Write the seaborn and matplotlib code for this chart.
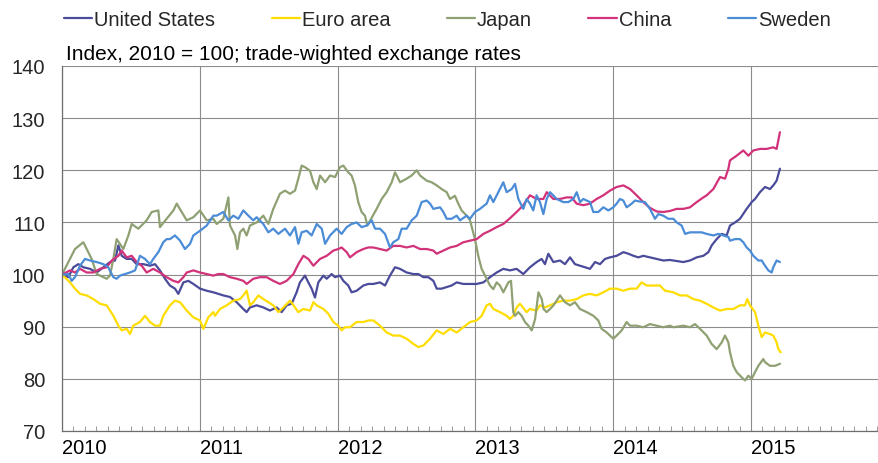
import matplotlib
matplotlib.use("Agg")
import matplotlib.pyplot as plt
from matplotlib.lines import Line2D
from matplotlib.ticker import FixedLocator, MultipleLocator
import pandas as pd
import seaborn as sns

# ---------------- data (months since Jan 2010, index 2010 = 100) ----------------
series_names = ["United States", "Euro area", "Japan", "China", "Sweden"]
series_colors = ["#4B4B9B", "#FFDD00", "#8FA073", "#D2327A", "#4B8CD7"]
year_labels = ["2010", "2011", "2012", "2013", "2014", "2015"]
y_ticks = [70, 80, 90, 100, 110, 120, 130, 140]
subtitle = "Index, 2010 = 100; trade-wighted exchange rates"

us_month = [0, 0.55, 0.99, 1.42, 1.86, 2.44, 3.02, 3.60, 4.18, 4.62, 4.91, 5.20, 5.63, 6.07, 6.50, 7.08, 7.66, 8.10, 8.53, 8.97,
            9.40, 9.84, 10.13, 10.57, 11.00, 11.44, 12.02, 12.60, 13.18, 13.61, 14.05, 14.63, 15.21, 15.79, 16.08, 16.37, 16.95,
            17.53, 18.11, 18.69, 19.13, 19.56, 20.00, 20.43, 20.72, 21.16, 21.45, 21.74, 22.03, 22.32, 22.76, 23.05, 23.48, 23.77,
            24.21, 24.50, 24.93, 25.22, 25.66, 26.24, 26.67, 27.11, 27.69, 28.13, 28.56, 29.00, 29.43, 30.01, 30.60, 31.03, 31.47,
            31.90, 32.34, 32.63, 33.06, 33.50, 33.93, 34.37, 34.95, 35.53, 36.11, 36.69, 37.27, 37.85, 38.43, 39.01, 39.59, 40.17,
            40.75, 41.33, 41.77, 42.06, 42.35, 42.79, 43.37, 43.80, 44.24, 44.67, 45.11, 45.55, 45.98, 46.42, 46.85, 47.29, 47.72,
            48.30, 48.89, 49.32, 49.76, 50.19, 50.62, 51.20, 51.78, 52.36, 52.94, 53.24, 54.11, 54.69, 55.27, 55.85, 56.29, 56.58,
            57.01, 57.45, 57.88, 58.17, 58.61, 59.04, 59.62, 60.06, 60.35, 60.78, 61.22, 61.65, 61.94, 62.23, 62.52]
us_index = [100, 99.5, 101.4, 102.0, 101.4, 101.1, 100.4, 101.4, 102.4, 102.7, 105.6, 103.6, 103.0, 103.0, 102.0, 102.0, 101.7,
            102.0, 100.8, 99.2, 97.9, 97.3, 96.3, 98.5, 98.8, 98.2, 97.3, 96.9, 96.6, 96.3, 96.0, 95.7, 94.7, 93.4, 92.8, 93.7, 94.1,
            93.7, 93.1, 93.7, 92.8, 94.1, 94.4, 96.6, 98.5, 99.8, 98.5, 97.3, 95.6, 98.5, 99.8, 99.2, 100.1, 99.5, 99.8, 98.8, 97.9,
            96.6, 96.9, 97.9, 98.2, 98.2, 98.5, 97.9, 99.8, 101.4, 101.1, 100.4, 100.1, 100.1, 99.5, 99.5, 98.8, 97.3, 97.3, 97.6,
            97.9, 98.5, 98.2, 98.2, 98.2, 98.5, 99.5, 100.4, 101.1, 100.8, 101.1, 100.1, 101.4, 102.4, 103.0, 102.0, 104.0, 102.4,
            102.7, 102.0, 103.3, 102.0, 101.7, 101.4, 101.1, 102.4, 102.0, 103.0, 103.3, 103.6, 104.3, 104.0, 103.6, 103.3, 103.6,
            103.3, 103.0, 102.7, 102.8, 102.7, 102.4, 102.7, 103.3, 103.6, 104.3, 105.6, 106.8, 107.8, 107.5, 109.4, 110.0, 110.7,
            112.6, 113.9, 114.5, 115.8, 116.8, 116.4, 117.1, 118.0, 120.3]

euro_month = [0, 0.70, 1.13, 1.57, 2.15, 2.73, 3.31, 3.89, 4.47, 4.91, 5.20, 5.63, 5.92, 6.21, 6.79, 7.23, 7.66, 8.10, 8.53, 8.82,
              9.40, 9.84, 10.28, 10.86, 11.44, 12.02, 12.31, 12.74, 13.18, 13.32, 13.76, 14.34, 14.92, 15.50, 15.79, 16.08, 16.37,
              16.66, 17.10, 17.53, 17.97, 18.40, 18.84, 19.28, 19.86, 20.15, 20.58, 21.02, 21.60, 21.89, 22.18, 22.76, 23.19, 23.63,
              24.06, 24.35, 24.64, 25.08, 25.66, 26.24, 26.67, 27.11, 27.69, 28.27, 28.85, 29.43, 30.01, 30.60, 31.03, 31.47, 32.05,
              32.63, 33.21, 33.79, 34.37, 34.95, 35.53, 36.11, 36.55, 36.98, 37.27, 37.56, 38.14, 38.72, 39.01, 39.30, 39.59, 39.88,
              40.46, 40.75, 41.33, 41.62, 42.06, 42.50, 43.08, 43.66, 44.24, 44.82, 45.40, 45.97, 46.56, 47.14, 47.72, 48.30, 48.88,
              49.46, 50.04, 50.47, 50.91, 51.49, 52.07, 52.51, 53.24, 53.82, 54.40, 54.98, 55.56, 56.14, 56.72, 57.30, 57.88, 58.46,
              59.04, 59.48, 59.68, 59.91, 60.35, 60.64, 60.93, 61.22, 61.65, 61.94, 62.23, 62.38, 62.58]
euro_index = [100, 98.5, 97.3, 96.3, 96.0, 95.3, 94.4, 94.1, 92.1, 90.2, 89.3, 89.6, 88.6, 90.2, 90.9, 92.1, 90.9, 90.2, 90.2, 92.1,
              94.1, 95.0, 94.7, 93.1, 91.8, 91.2, 89.6, 91.8, 92.8, 92.1, 93.4, 94.1, 95.0, 95.3, 96.0, 96.9, 94.1, 94.7, 96.0, 95.3,
              94.7, 94.1, 92.8, 93.7, 95.0, 94.1, 92.8, 93.4, 93.1, 94.7, 94.1, 93.4, 92.5, 90.9, 90.2, 89.3, 89.9, 89.9, 90.9, 90.9,
              91.2, 91.2, 90.2, 88.9, 88.3, 88.3, 87.7, 86.7, 86.1, 86.4, 87.7, 89.3, 88.6, 89.6, 88.9, 89.9, 90.9, 91.2, 92.1, 94.1,
              94.4, 93.4, 92.8, 92.1, 91.5, 92.1, 93.7, 94.4, 92.8, 93.4, 93.1, 94.1, 93.7, 94.1, 94.7, 95.0, 95.0, 95.3, 96.0, 96.3,
              96.0, 96.6, 97.3, 97.3, 96.9, 97.3, 97.3, 98.5, 97.9, 97.9, 97.9, 96.9, 96.6, 96.0, 96.0, 95.3, 95.0, 94.4, 93.7, 93.1,
              93.4, 93.4, 94.1, 94.1, 95.3, 94.1, 92.8, 90.2, 88.0, 88.9, 88.6, 88.3, 87.0, 85.7, 85.1]

japan_month = [0, 1.13, 1.86, 2.15, 2.58, 3.02, 3.89, 4.18, 4.47, 4.76, 5.34, 5.78, 6.07, 6.65, 7.37, 7.81, 8.39, 8.53, 9.11, 9.70,
               9.99, 10.42, 10.86, 11.44, 12.02, 12.60, 13.18, 13.47, 14.05, 14.49, 14.63, 15.07, 15.27, 15.50, 15.79, 16.08, 16.37,
               16.95, 17.53, 17.97, 18.40, 18.98, 19.42, 19.85, 20.29, 20.58, 20.87, 21.16, 21.60, 21.89, 22.18, 22.47, 22.91, 23.34,
               23.78, 24.21, 24.50, 24.93, 25.22, 25.51, 25.80, 26.09, 26.38, 26.60, 26.92, 27.40, 27.84, 28.27, 28.71, 29.00, 29.15,
               29.44, 30.02, 30.45, 30.89, 31.18, 31.76, 32.19, 32.63, 33.06, 33.50, 33.79, 34.22, 34.51, 34.80, 35.24, 35.53, 35.96,
               36.25, 36.54, 36.98, 37.27, 37.56, 37.85, 38.14, 38.43, 38.87, 39.10, 39.30, 39.45, 39.74, 40.03, 40.32, 40.61, 40.91,
               41.20, 41.49, 41.78, 41.93, 42.21, 42.50, 42.80, 43.37, 43.80, 44.24, 44.67, 45.11, 45.69, 46.27, 46.70, 46.99, 47.43,
               48.01, 48.30, 48.74, 49.17, 49.46, 50.04, 50.62, 51.20, 51.78, 52.36, 52.94, 53.24, 54.11, 54.69, 55.12, 55.56, 56.14,
               56.57, 57.01, 57.45, 57.74, 58.03, 58.17, 58.46, 58.75, 59.19, 59.48, 59.77, 60.06, 60.35, 60.64, 61.07, 61.22, 61.65,
               62.09, 62.53]
japan_index = [100, 104.9, 106.2, 104.9, 103.0, 100.1, 99.2, 99.8, 103.0, 106.8, 104.9, 107.5, 109.7, 108.8, 110.4, 112.0, 112.3,
               109.1, 110.7, 112.3, 113.6, 112.0, 110.4, 111.0, 112.3, 110.4, 110.7, 109.7, 110.7, 114.8, 109.4, 107.5, 104.9, 108.1,
               108.8, 107.5, 109.4, 110.0, 111.3, 109.7, 112.6, 115.5, 116.1, 115.5, 116.1, 118.4, 120.9, 120.6, 119.9, 117.7, 116.4,
               119.0, 117.7, 119.0, 118.7, 120.6, 120.9, 119.6, 119.0, 117.1, 113.9, 112.0, 111.3, 109.4, 110.7, 112.6, 114.5, 115.8,
               117.7, 119.6, 119.0, 117.7, 118.4, 119.0, 120.0, 119.0, 118.0, 117.7, 117.1, 116.4, 115.8, 114.5, 115.1, 113.6, 112.3,
               111.3, 110.4, 106.8, 103.6, 101.1, 99.2, 97.9, 97.2, 98.5, 97.9, 96.6, 98.5, 98.8, 92.8, 92.1, 92.8, 92.1, 90.9, 90.2,
               89.3, 91.5, 96.6, 95.3, 93.4, 92.8, 93.4, 94.1, 96.0, 94.7, 94.1, 94.7, 93.4, 92.8, 92.1, 91.2, 89.6, 88.9, 87.7, 88.3,
               89.3, 90.9, 90.2, 90.2, 89.9, 90.5, 90.2, 89.9, 90.2, 89.9, 90.2, 89.9, 90.5, 89.6, 88.3, 86.7, 85.7, 87.0, 88.3, 87.0,
               85.1, 82.5, 81.3, 80.3, 79.7, 80.6, 80.0, 81.3, 82.5, 83.8, 83.2, 82.5, 82.5, 82.9]

china_month = [0, 0.70, 1.13, 1.57, 2.15, 2.73, 3.31, 3.89, 4.33, 4.91, 5.20, 5.63, 6.07, 6.50, 6.94, 7.37, 7.95, 8.53, 9.11, 9.70,
               10.13, 10.57, 10.86, 11.44, 12.02, 12.60, 13.18, 13.61, 14.05, 14.63, 15.21, 15.79, 16.08, 16.66, 17.24, 17.82, 18.40,
               18.98, 19.56, 20.15, 20.58, 21.02, 21.45, 21.89, 22.47, 23.05, 23.63, 24.06, 24.35, 24.79, 25.08, 25.66, 26.24, 26.67,
               27.11, 27.69, 28.27, 28.85, 29.43, 30.01, 30.60, 31.18, 31.76, 32.34, 32.63, 33.21, 33.79, 34.37, 34.95, 35.53, 36.11,
               36.69, 37.27, 37.85, 38.43, 39.01, 39.59, 40.17, 40.75, 41.33, 41.92, 42.21, 42.79, 43.37, 43.95, 44.38, 44.82, 45.40,
               45.97, 46.56, 47.14, 47.72, 48.30, 48.89, 49.47, 50.04, 50.62, 51.20, 51.78, 52.36, 52.95, 53.53, 54.11, 54.69, 55.27,
               55.85, 56.14, 56.72, 57.30, 57.74, 58.03, 58.17, 58.75, 59.33, 59.77, 60.20, 60.78, 61.36, 61.94, 62.23, 62.52]
china_index = [100, 100.8, 100.4, 101.1, 100.4, 100.4, 101.1, 101.4, 102.7, 103.6, 104.6, 103.3, 103.6, 102.4, 101.7, 100.4, 101.1,
               100.4, 99.5, 98.8, 98.5, 99.5, 100.4, 100.8, 100.4, 100.1, 99.8, 100.1, 100.1, 99.5, 99.2, 98.8, 98.2, 99.2, 99.5, 99.5,
               98.8, 98.2, 98.8, 100.1, 102.0, 103.6, 103.0, 101.7, 103.0, 103.6, 104.6, 104.9, 105.2, 104.3, 103.3, 104.3, 104.9,
               105.2, 105.2, 104.9, 104.6, 105.5, 105.5, 105.2, 105.5, 104.9, 104.9, 104.6, 104.0, 104.6, 105.2, 105.5, 106.2, 106.5,
               106.8, 107.8, 108.4, 109.1, 109.7, 110.8, 112.0, 113.3, 115.2, 114.5, 114.5, 115.8, 114.5, 114.5, 114.8, 114.8, 113.6,
               113.3, 113.6, 114.5, 115.2, 116.1, 116.8, 117.1, 116.4, 115.2, 113.9, 112.8, 112.1, 112.0, 112.2, 112.6, 112.6, 112.9,
               113.9, 114.8, 115.2, 116.4, 118.7, 118.4, 120.3, 121.9, 122.8, 123.8, 122.8, 123.8, 124.1, 124.1, 124.4, 124.1, 127.3]

sweden_month = [0, 0.55, 0.84, 1.13, 1.57, 2.00, 2.44, 3.02, 3.60, 4.03, 4.47, 4.76, 5.05, 5.49, 5.92, 6.36, 6.79, 7.23, 7.66, 7.95,
                8.39, 8.82, 9.11, 9.40, 9.84, 10.28, 10.71, 11.15, 11.44, 12.02, 12.60, 13.18, 13.47, 14.05, 14.49, 14.92, 15.36,
                15.79, 16.23, 16.66, 16.95, 17.53, 17.97, 18.40, 18.84, 19.42, 19.85, 20.29, 20.58, 20.87, 21.31, 21.74, 22.18, 22.62,
                22.91, 23.34, 23.92, 24.35, 24.79, 25.22, 25.66, 26.09, 26.53, 26.97, 27.26, 27.69, 28.13, 28.56, 28.85, 29.29, 29.58,
                30.01, 30.45, 30.89, 31.32, 31.76, 32.05, 32.34, 32.92, 33.21, 33.50, 33.93, 34.37, 34.66, 35.24, 35.53, 35.96, 36.40,
                36.98, 37.27, 37.56, 37.99, 38.43, 38.72, 39.16, 39.45, 39.74, 40.17, 40.46, 40.75, 41.04, 41.33, 41.62, 41.92, 42.21,
                42.50, 43.08, 43.66, 44.09, 44.53, 44.82, 45.11, 45.40, 45.98, 46.27, 46.70, 47.14, 47.58, 48.01, 48.30, 48.59, 48.88,
                49.17, 49.61, 49.90, 50.33, 50.77, 51.20, 51.64, 51.93, 52.36, 52.80, 53.24, 53.53, 53.96, 54.26, 54.69, 55.27, 55.70,
                56.14, 56.72, 57.16, 57.59, 58.03, 58.17, 58.61, 59.04, 59.33, 59.62, 59.91, 60.20, 60.64, 60.93, 61.22, 61.51, 61.80,
                61.94, 62.23, 62.52]
sweden_index = [100, 100.1, 98.8, 99.5, 101.7, 103.0, 102.7, 102.4, 102.0, 101.4, 99.5, 99.2, 99.8, 100.1, 100.4, 100.8, 103.6,
                103.0, 102.0, 103.0, 104.3, 106.2, 106.8, 106.8, 107.5, 106.5, 104.9, 105.9, 107.5, 108.4, 109.4, 111.3, 111.3, 112.0,
                110.4, 111.3, 110.7, 112.3, 111.3, 110.4, 111.0, 109.7, 108.1, 108.8, 107.8, 108.8, 107.5, 109.1, 105.9, 108.1, 108.4,
                107.5, 109.7, 108.8, 105.9, 107.5, 108.8, 107.8, 109.1, 109.7, 110.0, 109.1, 109.4, 110.4, 108.8, 108.8, 107.8, 105.2,
                106.2, 106.8, 108.8, 108.8, 110.4, 111.3, 113.9, 114.2, 113.6, 112.6, 112.9, 112.0, 110.7, 110.7, 111.3, 110.4, 111.3,
                110.7, 112.0, 112.6, 113.6, 115.2, 113.9, 115.8, 117.7, 115.8, 116.4, 117.4, 114.5, 112.6, 114.5, 113.6, 112.3, 115.2,
                113.9, 111.6, 114.5, 115.8, 114.5, 113.9, 113.9, 114.5, 115.8, 113.9, 114.5, 113.9, 112.0, 112.0, 112.9, 112.3, 112.9,
                113.6, 114.5, 114.2, 112.9, 113.6, 114.2, 114.0, 113.9, 112.6, 110.7, 111.6, 111.3, 110.7, 110.7, 110.0, 109.4, 107.8,
                108.1, 108.1, 108.1, 107.8, 107.5, 107.8, 107.5, 107.2, 106.5, 106.8, 106.8, 106.2, 105.2, 104.6, 103.6, 102.7, 102.7,
                101.7, 100.8, 100.4, 101.4, 102.7, 102.4]

# ---------------- build long table ----------------
frames = []
for name, months, vals in zip(series_names,
                              [us_month, euro_month, japan_month, china_month, sweden_month],
                              [us_index, euro_index, japan_index, china_index, sweden_index]):
    frames.append(pd.DataFrame({"year": [2010 + m / 12.0 for m in months],
                                "value": vals, "series": name}))
df = pd.concat(frames, ignore_index=True)

# ---------------- style ----------------
sns.set_theme(style="white")
plt.rcParams["font.family"] = ["Liberation Sans", "DejaVu Sans"]
FS = 14.5

W, H = 879, 464
fig = plt.figure(figsize=(W / 100, H / 100), dpi=100)
ax = fig.add_axes([62 / W, 1 - 432 / H, (880 - 62) / W, (432 - 67) / H])

grid_col = "#8C8C8C"
ax.set_axisbelow(True)

sns.lineplot(data=df, x="year", y="value", hue="series", hue_order=series_names,
             palette=series_colors, estimator=None, sort=False, linewidth=1.6,
             legend=False, ax=ax)

ax.set_xlim(2010.0, 2010 + (880 - 62) / 137.8)
ax.set_ylim(70, 140)
ax.set_xlabel("")
ax.set_ylabel("")

year_pos = [2010 + i for i in range(len(year_labels))]
ax.xaxis.set_major_locator(FixedLocator(year_pos))
ax.set_xticklabels(year_labels, ha="left")
ax.xaxis.set_minor_locator(MultipleLocator(1 / 12))
ax.yaxis.set_major_locator(FixedLocator(y_ticks))
ax.set_yticklabels([str(v) for v in y_ticks])

ax.tick_params(axis="x", which="major", length=0, pad=5, labelsize=FS, colors="#000000")
ax.tick_params(axis="x", which="minor", direction="in", length=3.5, width=0.6,
               color="#8C8C8C", bottom=True)
ax.tick_params(axis="y", which="major", length=0, pad=12, labelsize=FS)
for lab in ax.get_xticklabels():
    lab.set_x(lab.get_position()[0] - 0.015)

ax.grid(True, axis="both", which="major", color=grid_col, linewidth=0.8)
for side in ["top", "right"]:
    ax.spines[side].set_visible(False)
for side in ["left", "bottom"]:
    ax.spines[side].set_color("#6E6E6E")
    ax.spines[side].set_linewidth(0.9)

# subtitle
fig.text(66 / W, 1 - 60 / H, subtitle, ha="left", va="baseline", fontsize=15, color="#000000")

# legend
handles = [Line2D([0], [0], color=c, lw=1.6) for c in series_colors]
fig.legend(handles, series_names, loc="center left", bbox_to_anchor=(64 / W, 1 - 21 / H),
           ncol=5, frameon=False, fontsize=FS, handlelength=1.4, handletextpad=0.1,
           columnspacing=2.8, borderaxespad=0, borderpad=0)

fig.savefig("out.png", dpi=100)
